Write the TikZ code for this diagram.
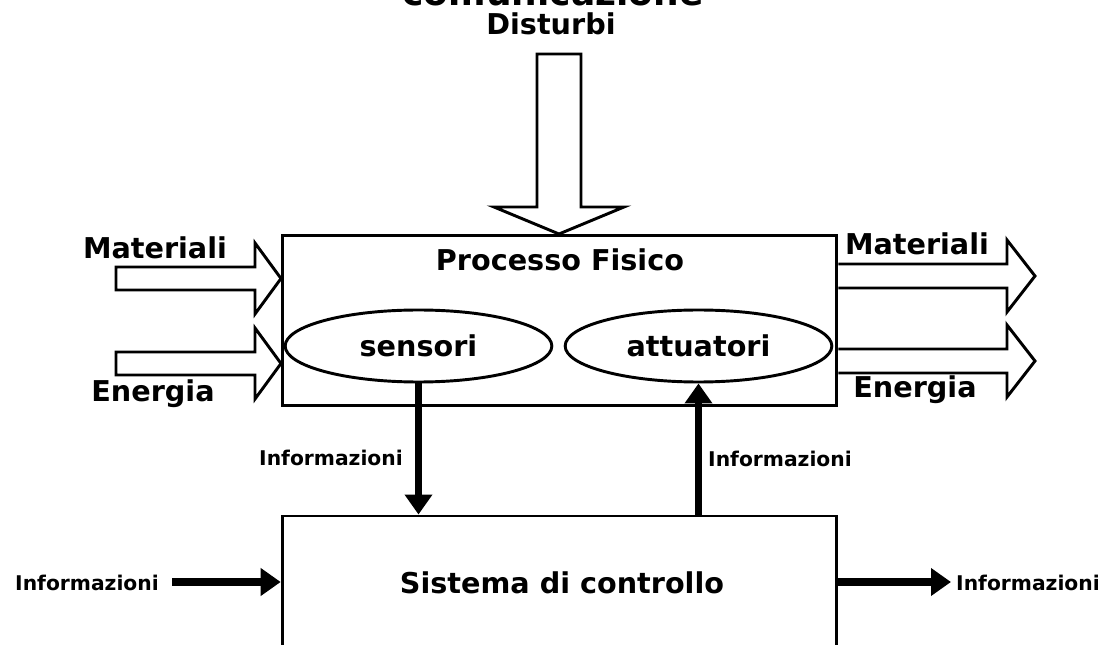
\documentclass[tikz,border=0pt]{standalone}
\usepackage{fontspec}
\setmainfont{DejaVu Sans}
\usetikzlibrary{arrows.meta, shapes.geometric}
\usetikzlibrary{positioning}
\tikzstyle{big_label} = [
    font=\fontsize{21.5pt}{24pt}\selectfont\bfseries,
    inner sep=0pt
]
\tikzstyle{small_label} = [
    font=\fontsize{15.2pt}{18pt}\selectfont\bfseries,
    inner sep=0pt
]
\tikzstyle{main_box} = [
    rectangle,
    draw=black,
    line width=2.2pt,
    minimum width=416pt,
    inner sep=0pt
]
\tikzstyle{device_node} = [
    ellipse,
    draw=black,
    line width=2.2pt,
    minimum width=200pt,
    minimum height=54pt,
    inner sep=0pt,
    font=\fontsize{21.5pt}{24pt}\selectfont\bfseries
]
\tikzstyle{block_arrow} = [
    draw=black,
    line width=2.2pt,
    fill=white
]
\tikzstyle{info_arrow} = [
    draw=black,
    line width=5.8pt,
    -{Triangle[length=15pt, width=20pt]}
]

\begin{document}
\begin{tikzpicture}[x=0.75pt, y=-0.75pt]
\useasboundingbox (0,0) rectangle (1104,645);

% boxes
\node (process) [main_box, minimum height=127pt] at (559.5,320.5) {};
\node (control) [main_box, minimum height=99pt] at (559.5,582) {};
\node (sensori) [device_node] at (418.5,346) {sensori};
\node (attuatori) [device_node] at (698.5,346) {attuatori};

% texts
\node (comunicazione) [anchor=base, inner sep=0pt,
    font=\fontsize{27pt}{30pt}\selectfont\bfseries] at (553,6) {comunicazione};
\node (disturbi) [big_label, anchor=base] at (551,35) {Disturbi};
\node (process_title) [big_label, anchor=base] at (560,271) {Processo Fisico};
\node (control_title) [big_label, anchor=base] at (562,593) {Sistema di controllo};
\node (mat_in) [big_label, anchor=base] at (155,259) {Materiali};
\node (en_in) [big_label, anchor=base] at (153,402) {Energia};
\node (mat_out) [big_label, anchor=base] at (917,255) {Materiali};
\node (en_out) [big_label, anchor=base] at (915,398) {Energia};
\node (info_sens) [small_label, anchor=base] at (331,465) {Informazioni};
\node (info_att) [small_label, anchor=base] at (780,466) {Informazioni};
\node (info_in) [small_label, anchor=base] at (87,590) {Informazioni};
\node (info_out) [small_label, anchor=base] at (1028,590) {Informazioni};

% block arrows
\draw [block_arrow] (537,54) -- (581,54) -- (581,207) -- (624,207) -- (559,234)
    -- (494,207) -- (537,207) -- cycle;
\draw [block_arrow] (116,267) -- (255,267) -- (255,243) -- (281,278.5)
    -- (255,314) -- (255,290) -- (116,290) -- cycle;
\draw [block_arrow] (116,352) -- (255,352) -- (255,328) -- (281,363.5)
    -- (255,399) -- (255,375) -- (116,375) -- cycle;
\draw [block_arrow] (process.east |- 0,264) -- (1007,264) -- (1007,240) -- (1035,276)
    -- (1007,312) -- (1007,288) -- (process.east |- 0,288);
\draw [block_arrow] (process.east |- 0,349) -- (1007,349) -- (1007,325) -- (1035,361)
    -- (1007,397) -- (1007,373) -- (process.east |- 0,373);

% information flow
\coordinate (in_start) at (172,582);
\coordinate (out_end) at (951,582);
\draw [info_arrow] (sensori.south) -- (sensori.south |- control.north);
\draw [info_arrow] (attuatori.south |- control.north) -- (attuatori.south);
\draw [info_arrow] (in_start) -- (control.west);
\draw [info_arrow] (control.east) -- (out_end);
\end{tikzpicture}
\end{document}
